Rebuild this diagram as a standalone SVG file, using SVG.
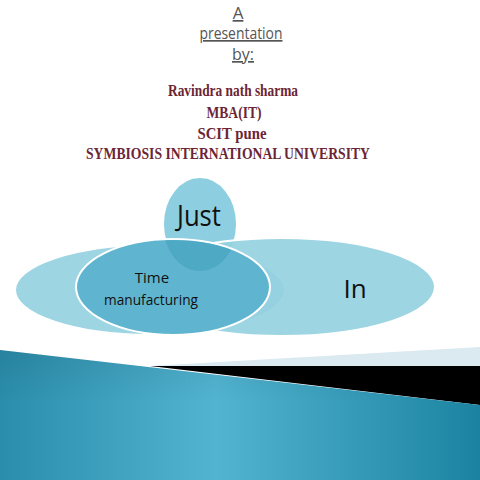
<svg xmlns="http://www.w3.org/2000/svg" width="480" height="480" viewBox="0 0 480 480">
<defs>
<style>
.hdr{font-family:"Open Sans","Liberation Sans",sans-serif;font-size:17px;fill:#555;text-anchor:middle;text-decoration:underline}
.nm{font-family:"Liberation Serif",serif;font-weight:bold;font-size:16px;fill:#6b2535;text-anchor:middle}
.lbl{font-family:"Open Sans","Liberation Sans",sans-serif;fill:#111;text-anchor:middle}
.ell{stroke:#fff;stroke-width:2}
</style>
<linearGradient id="teal" x1="0" y1="0" x2="1" y2="0">
<stop offset="0" stop-color="#2a8dab"/>
<stop offset="0.45" stop-color="#52b4d1"/>
<stop offset="1" stop-color="#1b83a1"/>
</linearGradient>
<linearGradient id="tealv" x1="0" y1="0" x2="0" y2="1">
<stop offset="0" stop-color="#000" stop-opacity="0.08"/>
<stop offset="0.4" stop-color="#000" stop-opacity="0"/>
</linearGradient>
<clipPath id="tc"><ellipse cx="173" cy="287" rx="96" ry="47"/></clipPath>
</defs>
<rect width="480" height="480" fill="#fff"/>
<g id="title">
<text class="hdr" x="238" y="19">A</text>
<text class="hdr" x="241" y="39" textLength="83" lengthAdjust="spacingAndGlyphs">presentation</text>
<text class="hdr" x="243" y="60" textLength="22" lengthAdjust="spacingAndGlyphs">by:</text>
</g>
<g id="author">
<text class="nm" x="233" y="96" textLength="130" lengthAdjust="spacingAndGlyphs">Ravindra nath sharma</text>
<text class="nm" x="234" y="118" textLength="55" lengthAdjust="spacingAndGlyphs">MBA(IT)</text>
<text class="nm" x="232" y="139" textLength="69" lengthAdjust="spacingAndGlyphs">SCIT  pune</text>
<text class="nm" x="228" y="159" textLength="284" lengthAdjust="spacingAndGlyphs">SYMBIOSIS INTERNATIONAL UNIVERSITY</text>
</g>
<g id="just">
<ellipse class="ell" cx="200" cy="224" rx="37" ry="47" fill="#8dcfe0"/>
<text class="lbl" x="199" y="226" font-size="30" textLength="44" lengthAdjust="spacingAndGlyphs">Just</text>
</g>
<g id="in">
<ellipse class="ell" cx="150" cy="290" rx="135" ry="45" fill="#93d0e0" fill-opacity="0.9"/>
<ellipse class="ell" cx="282" cy="287" rx="153" ry="49" fill="#93d0e0" fill-opacity="0.9"/>
<text class="lbl" x="355" y="298" font-size="26">In</text>
</g>
<g id="time">
<ellipse class="ell" cx="173" cy="287" rx="97" ry="48" fill="#5fb5cf"/>
<ellipse cx="200" cy="224" rx="37" ry="47" fill="#3f9fbd" opacity="0.55" clip-path="url(#tc)"/>
<text class="lbl" x="152" y="283" font-size="15">Time</text>
<text class="lbl" x="151" y="305" font-size="15" textLength="94" lengthAdjust="spacingAndGlyphs">manufacturing</text>
</g>
<g id="band">
<polygon points="150,366 480,347 480,366" fill="#dbe9f0"/>
<polygon points="150,366 480,366 480,405" fill="#000"/>
<polygon points="0,350 480,405 480,480 0,480" fill="url(#teal)"/>
<polygon points="0,350 480,405 480,480 0,480" fill="url(#tealv)"/>
</g>
</svg>
